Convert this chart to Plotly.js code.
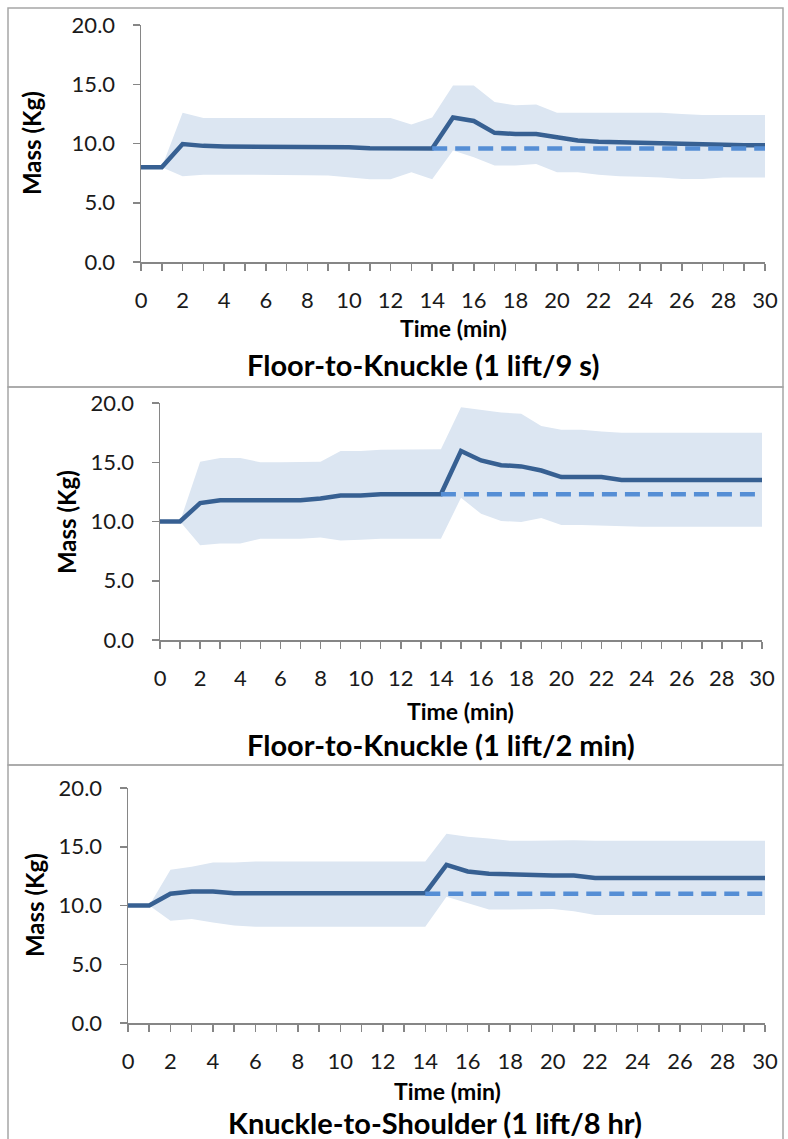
<!DOCTYPE html>
<html>
<head>
<meta charset="utf-8">
<script src="https://cdn.plot.ly/plotly-3.0.1.min.js"></script>
<style>html,body{margin:0;padding:0;background:#fff;}#chart{width:788px;height:1139px;}</style>
</head>
<body>
<div id="chart"></div>
<script>
// ---- data ----
const time = [0,1,2,3,4,5,6,7,8,9,10,11,12,13,14,15,16,17,18,19,20,21,22,23,24,25,26,27,28,29,30];
const yTicks = [0,5,10,15,20];
const xTicks = [0,2,4,6,8,10,12,14,16,18,20,22,24,26,28,30];

const p1Title = "Floor-to-Knuckle (1 lift/9 s)";
const p1Mean  = [8.0,8.0,9.95,9.8,9.75,9.75,9.75,9.75,9.75,9.75,9.68,9.6,9.58,9.58,9.58,12.2,11.9,10.9,10.8,10.8,10.5,10.25,10.15,10.1,10.05,10.0,9.95,9.9,9.85,9.85,9.85];
const p1Upper = [8.0,8.0,12.6,12.15,12.15,12.15,12.15,12.15,12.15,12.15,12.15,12.15,12.15,11.6,12.2,14.9,14.9,13.5,13.22,13.3,12.6,12.6,12.6,12.6,12.6,12.6,12.5,12.4,12.4,12.4,12.4];
const p1Lower = [8.0,8.0,7.23,7.37,7.37,7.37,7.37,7.37,7.33,7.29,7.15,6.98,6.98,7.57,6.98,9.4,8.84,8.14,8.14,8.28,7.57,7.57,7.37,7.23,7.2,7.14,7.0,7.0,7.14,7.14,7.14];
const p1Base  = [null,null,null,null,null,null,null,null,null,null,null,null,null,null,9.58,9.58,9.58,9.58,9.58,9.58,9.58,9.58,9.58,9.58,9.58,9.58,9.58,9.58,9.58,9.58,9.58];

const p2Title = "Floor-to-Knuckle (1 lift/2 min)";
const p2Mean  = [10.0,10.0,11.55,11.8,11.8,11.8,11.8,11.8,11.95,12.2,12.2,12.3,12.3,12.3,12.3,15.95,15.15,14.75,14.65,14.3,13.75,13.75,13.75,13.5,13.5,13.5,13.5,13.5,13.5,13.5,13.5];
const p2Upper = [10.0,10.0,15.05,15.35,15.35,15.0,15.0,15.0,15.05,15.95,15.95,16.05,16.05,16.05,16.1,19.65,19.4,19.2,19.1,18.05,17.75,17.75,17.6,17.5,17.5,17.5,17.5,17.5,17.5,17.5,17.5];
const p2Lower = [10.0,10.0,8.0,8.15,8.15,8.55,8.55,8.55,8.65,8.4,8.45,8.55,8.55,8.55,8.55,12.0,10.65,10.05,9.95,10.3,9.7,9.7,9.65,9.55,9.55,9.55,9.55,9.55,9.55,9.55,9.55];
const p2Base  = [null,null,null,null,null,null,null,null,null,null,null,null,null,null,12.3,12.3,12.3,12.3,12.3,12.3,12.3,12.3,12.3,12.3,12.3,12.3,12.3,12.3,12.3,12.3,12.3];

const p3Title = "Knuckle-to-Shoulder (1 lift/8 hr)";
const p3Mean  = [10.0,10.0,11.0,11.2,11.2,11.05,11.05,11.05,11.05,11.05,11.05,11.05,11.05,11.05,11.05,13.45,12.9,12.7,12.65,12.55,12.55,12.55,12.35,12.35,12.35,12.35,12.35,12.35,12.35,12.35,12.35];
const p3Upper = [10.0,10.0,13.05,13.3,13.65,13.65,13.75,13.75,13.75,13.75,13.75,13.75,13.75,13.75,13.75,16.1,15.85,15.7,15.5,15.5,15.55,15.55,15.5,15.5,15.5,15.5,15.5,15.5,15.5,15.5,15.5];
const p3Lower = [10.0,10.0,8.7,8.85,8.55,8.3,8.2,8.2,8.2,8.2,8.2,8.2,8.2,8.2,8.2,10.75,10.2,9.65,9.65,9.7,9.7,9.5,9.2,9.2,9.2,9.2,9.2,9.2,9.2,9.2,9.2];
const p3Base  = [null,null,null,null,null,null,null,null,null,null,null,null,null,null,11.0,11.0,11.0,11.0,11.0,11.0,11.0,11.0,11.0,11.0,11.0,11.0,11.0,11.0,11.0,11.0,11.0];

const xTitle = "Time (min)";
const yTitle = "Mass (Kg)";

// ---- layout helpers ----
const W = 788, H = 1139;
const px = v => v / W;
const py = v => 1 - v / H;

const panels = [
  {title: p1Title, mean: p1Mean, upper: p1Upper, lower: p1Lower, base: p1Base,
   plot: {x0: 141, x1: 765, y0: 25, y1: 262}, box: [8, 387],
   yt: {x: 31, y: 143}, xt: {x: 453, y: 328}, tt: {x: 423, y: 365}},
  {title: p2Title, mean: p2Mean, upper: p2Upper, lower: p2Lower, base: p2Base,
   plot: {x0: 160, x1: 762, y0: 403, y1: 640}, box: [387, 765],
   yt: {x: 66, y: 522}, xt: {x: 460, y: 711}, tt: {x: 441, y: 744}},
  {title: p3Title, mean: p3Mean, upper: p3Upper, lower: p3Lower, base: p3Base,
   plot: {x0: 128, x1: 765, y0: 788, y1: 1023}, box: [765, 1150],
   yt: {x: 34, y: 905}, xt: {x: 447, y: 1091}, tt: {x: 435, y: 1122}}
];

const BAND = '#dce6f2', MAIN = '#376092', DASH = '#558ed5', AXIS = '#868686';
const FONT = 'Lato, "Open Sans", sans-serif';

const data = [];
const layout = {
  width: W, height: H,
  margin: {l: 0, r: 0, t: 0, b: 0},
  paper_bgcolor: '#fff', plot_bgcolor: 'rgba(0,0,0,0)',
  showlegend: false, hovermode: false,
  font: {family: FONT, color: '#1a1a1a'},
  annotations: [], shapes: []
};

panels.forEach((p, i) => {
  const n = i === 0 ? '' : String(i + 1);
  const xa = 'x' + n, ya = 'y' + n;
  data.push({x: time, y: p.lower, xaxis: xa, yaxis: ya, type: 'scatter', mode: 'lines',
             line: {width: 0, color: BAND}, hoverinfo: 'skip'});
  data.push({x: time, y: p.upper, xaxis: xa, yaxis: ya, type: 'scatter', mode: 'lines',
             fill: 'tonexty', fillcolor: BAND, line: {width: 0, color: BAND}, hoverinfo: 'skip'});
  data.push({x: time, y: p.mean, xaxis: xa, yaxis: ya, type: 'scatter', mode: 'lines',
             line: {width: 4.5, color: MAIN}, cliponaxis: false});
  data.push({x: time, y: p.base, xaxis: xa, yaxis: ya, type: 'scatter', mode: 'lines',
             line: {width: 4.5, color: DASH, dash: '15px,8px'}, cliponaxis: false});

  layout['xaxis' + n] = {
    domain: [px(p.plot.x0), px(p.plot.x1)], anchor: ya,
    range: [0, 30], tickmode: 'array', tickvals: xTicks, ticktext: xTicks.map(String),
    showgrid: false, zeroline: false, showline: true, linecolor: AXIS, linewidth: 1.5,
    ticks: 'outside', ticklen: 7, tickwidth: 1.5, tickcolor: AXIS,
    minor: {dtick: 1, tick0: 0, ticks: 'outside', ticklen: 7, tickwidth: 1.5, tickcolor: AXIS, showgrid: false},
    ticklabelstandoff: 11,
    tickfont: {family: FONT, size: 22, color: '#1a1a1a'}, fixedrange: true
  };
  layout['yaxis' + n] = {
    domain: [py(p.plot.y1), py(p.plot.y0)], anchor: xa,
    range: [0, 20], tickmode: 'array', tickvals: yTicks, ticktext: yTicks.map(v => v.toFixed(1)),
    showgrid: false, zeroline: false, showline: true, linecolor: AXIS, linewidth: 1.5,
    ticks: 'outside', ticklen: 7, tickwidth: 1.5, tickcolor: AXIS,
    ticklabelstandoff: 13,
    tickfont: {family: FONT, size: 22, color: '#1a1a1a'}, fixedrange: true
  };

  layout.annotations.push(
    {text: '<b>' + yTitle + '</b>', xref: 'paper', yref: 'paper', x: px(p.yt.x), y: py(p.yt.y),
     xanchor: 'center', yanchor: 'middle', textangle: -90, showarrow: false,
     font: {family: FONT, size: 24, color: '#000'}},
    {text: '<b>' + xTitle + '</b>', xref: 'paper', yref: 'paper', x: px(p.xt.x), y: py(p.xt.y),
     xanchor: 'center', yanchor: 'middle', showarrow: false,
     font: {family: FONT, size: 23, color: '#000'}},
    {text: '<b>' + p.title + '</b>', xref: 'paper', yref: 'paper', x: px(p.tt.x), y: py(p.tt.y),
     xanchor: 'center', yanchor: 'middle', showarrow: false,
     font: {family: FONT, size: 29, color: '#000'}}
  );
  layout.shapes.push({type: 'rect', xref: 'paper', yref: 'paper',
    x0: px(8), x1: px(783), y0: py(p.box[1]), y1: py(p.box[0]),
    line: {color: '#a6a6a6', width: 1.5}, fillcolor: 'rgba(0,0,0,0)', layer: 'below'});
});

Plotly.newPlot('chart', data, layout, {staticPlot: true, displayModeBar: false});
</script>
</body>
</html>
